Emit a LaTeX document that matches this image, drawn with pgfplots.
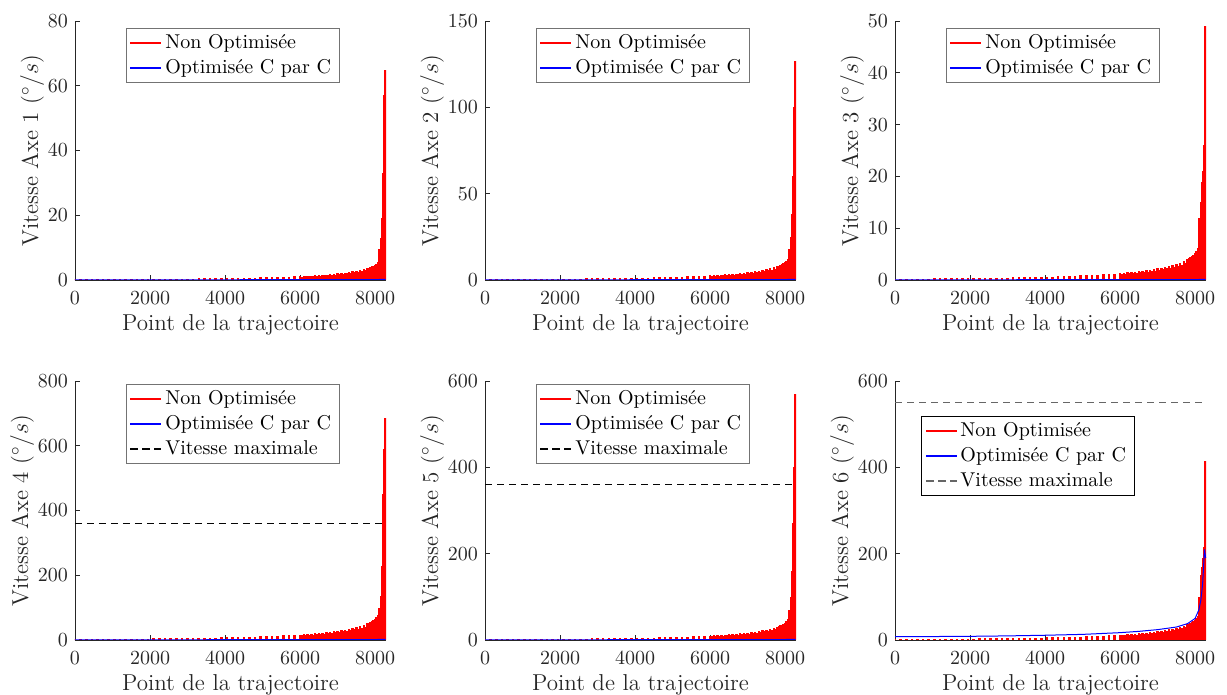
\documentclass[border=0pt]{standalone}
\usepackage{fontspec}
\usepackage{pgfplots}
\usepackage{pgfplotstable}
\pgfplotsset{compat=1.18}
\definecolor{axgray}{gray}{0.15}
\definecolor{limblack}{rgb}{0.02,0.02,0.02}
\definecolor{limgray}{rgb}{0.4,0.4,0.4}
\definecolor{nored}{rgb}{1,0,0}
\definecolor{optblue}{rgb}{0,0,1}

% Peaks of the oscillating "Non Optimisee" speed of each axis (a1..a6)
\pgfplotstableread{
x a1 a2 a3 a4 a5 a6
0 0.20 0.44 0.22 2.8 1.7 2.0
150 0.21 0.46 0.23 2.9 1.8 2.1
300 0.22 0.48 0.24 3.1 1.9 2.2
450 0.22 0.48 0.24 3.1 1.9 2.2
600 0.23 0.51 0.25 3.2 2.0 2.3
750 0.24 0.53 0.26 3.4 2.0 2.4
900 0.25 0.55 0.28 3.5 2.1 2.5
1050 0.26 0.57 0.29 3.6 2.2 2.6
1200 0.27 0.59 0.30 3.8 2.3 2.7
1350 0.28 0.62 0.31 3.9 2.4 2.8
1500 0.29 0.64 0.32 4.1 2.5 2.9
1650 0.30 0.66 0.33 4.2 2.6 3.0
1800 0.32 0.70 0.35 4.5 2.7 3.2
1950 0.33 0.73 0.36 4.6 2.8 3.3
2100 0.34 0.75 0.37 4.8 2.9 3.4
2250 0.35 0.77 0.39 4.9 3.0 3.5
2400 0.37 0.81 0.41 5.2 3.1 3.7
2550 0.38 0.84 0.42 5.3 3.2 3.8
2700 0.40 0.88 0.44 5.6 3.4 4.0
2850 0.41 0.90 0.45 5.7 3.5 4.1
3000 0.43 0.95 0.47 6.0 3.7 4.3
3150 0.45 0.99 0.50 6.3 3.8 4.5
3300 0.47 1.03 0.52 6.6 4.0 4.7
3450 0.49 1.08 0.54 6.9 4.2 4.9
3600 0.51 1.12 0.56 7.1 4.3 5.1
3750 0.53 1.17 0.58 7.4 4.5 5.3
3900 0.56 1.23 0.62 7.8 4.8 5.6
4050 0.58 1.28 0.64 8.1 4.9 5.8
4200 0.61 1.34 0.67 8.5 5.2 6.1
4350 0.64 1.41 0.70 9.0 5.4 6.4
4500 0.67 1.47 0.74 9.4 5.7 6.7
4650 0.71 1.56 0.78 9.9 6.0 7.1
4800 0.75 1.65 0.83 10.5 6.4 7.5
4950 0.79 1.74 0.87 11.1 6.7 7.9
5100 0.83 1.83 0.91 11.6 7.1 8.3
5250 0.88 1.94 0.97 12.3 7.5 8.8
5400 0.93 2.05 1.02 13.0 7.9 9.3
5550 0.99 2.18 1.09 13.9 8.4 9.9
5700 1.05 2.31 1.16 14.7 8.9 10.5
5850 1.12 2.46 1.23 15.7 9.5 11.2
6000 1.20 2.64 1.32 16.8 10.2 12.0
6050 1.05 2.30 1.15 14.6 8.9 10.5
6100 1.26 2.77 1.39 17.6 10.7 12.6
6150 1.10 2.41 1.21 15.4 9.3 11.0
6200 1.32 2.90 1.45 18.5 11.2 13.2
6250 1.15 2.52 1.26 16.1 9.8 11.5
6300 1.38 3.04 1.52 19.3 11.7 13.8
6350 1.20 2.64 1.32 16.8 10.2 12.0
6400 1.45 3.19 1.60 20.3 12.3 14.5
6450 1.26 2.77 1.39 17.6 10.7 12.6
6500 1.52 3.34 1.67 21.3 12.9 15.2
6550 1.33 2.92 1.46 18.6 11.3 13.3
6600 1.60 3.52 1.76 22.4 13.6 16.0
6650 1.39 3.07 1.53 19.5 11.8 13.9
6700 1.69 3.72 1.86 23.7 14.4 16.9
6750 1.48 3.25 1.63 20.7 12.6 14.8
6800 1.79 3.94 1.97 25.1 15.2 17.9
6850 1.56 3.44 1.72 21.9 13.3 15.6
6900 1.90 4.18 2.09 26.6 16.2 19.0
6950 1.67 3.66 1.83 23.3 14.2 16.7
7000 2.02 4.44 2.22 28.3 17.2 20.2
7050 1.77 3.89 1.94 24.8 15.0 17.7
7100 2.15 4.73 2.37 30.1 18.3 21.5
7150 1.89 4.15 2.08 26.4 16.0 18.9
7200 2.29 5.04 2.52 32.1 19.5 22.9
7250 2.01 4.43 2.22 28.2 17.1 20.1
7300 2.45 5.39 2.70 34.3 20.8 24.5
7350 2.16 4.75 2.37 30.2 18.4 21.6
7400 2.63 5.79 2.89 36.8 22.4 26.3
7450 2.32 5.10 2.55 32.5 19.7 23.2
7500 2.83 6.23 3.11 39.6 24.1 28.3
7550 2.50 5.50 2.75 35.0 21.2 25.0
7600 3.06 6.73 3.37 42.8 26.0 30.6
7650 2.71 5.97 2.98 38.0 23.0 27.1
7700 3.33 7.33 3.66 46.6 28.3 33.3
7750 2.96 6.51 3.25 41.4 25.1 29.6
7800 3.64 8.01 4.00 51.0 30.9 36.4
7820 3.16 6.96 3.48 44.3 26.9 31.6
7840 3.80 8.36 4.18 53.2 32.3 38.0
7860 3.31 7.27 3.64 46.3 28.1 33.1
7880 3.98 8.76 4.38 55.7 33.8 39.8
7900 3.47 7.63 3.81 48.6 29.5 34.7
7920 4.18 9.20 4.60 58.5 35.5 41.8
7940 3.65 8.02 4.01 51.1 31.0 36.5
7960 4.41 9.70 4.85 61.7 37.5 44.1
7980 3.86 8.49 4.24 54.0 32.8 38.6
8000 4.68 10.3 5.15 65.5 39.8 46.8
8020 4.12 9.07 4.53 57.7 35.0 41.2
8040 5.05 11.1 5.56 70.7 42.9 50.5
8060 4.51 9.91 4.96 63.1 38.3 45.1
8080 5.60 12.3 6.16 78.4 47.6 56.0
8100 8.5 16 11 90 60 80
8120 9.5 18 12 100 70 100
8140 9.0 17 11.5 98 68 95
8160 13 25 15 135 100 150
8180 16 30 17 175 125 160
8190 15 28 16 160 115 140
8200 19 38 19 230 160 170
8210 21 45 19.5 260 185 175
8220 26 50 20 330 220 180
8230 33 60 21 450 270 190
8240 50 80 22 574 330 200
8250 57 100 26 590 400 215
8260 58 110 33 620 460 230
8270 62 120 40 650 520 300
8280 65 127 49 685 570 415
}\redtab

\pgfplotsset{
  myax/.style={
    scale only axis, width=155.5pt, height=129.5pt,
    axis lines*=left,
    axis line style={axgray, line width=0.45pt},
    every tick/.style={axgray, line width=0.45pt},
    major tick length=2.5pt,
    tick align=inside,
    xmin=0, xmax=8290, ymin=0,
    xtick={0,2000,4000,6000,8000},
    scaled x ticks=false, scaled y ticks=false,
    /pgf/number format/1000 sep={},
    ticklabel style={font=\fontsize{10}{12}\selectfont, text=axgray},
    xticklabel style={yshift=-2.5pt},
    label style={font=\fontsize{11.5}{13}\selectfont, text=axgray},
    xlabel={Point de la trajectoire},
    xlabel style={yshift=2pt},
    ylabel style={yshift=-5pt},
    legend cell align=left,
    legend style={font=\fontsize{10}{12}\selectfont, draw=black!55,
      line width=0.45pt, inner xsep=2pt, inner ysep=1pt,
      row sep=0pt, anchor=north west},
  },
  redc/.style={ycomb, nored, line width=1.3pt, no markers, forget plot},
  bluec/.style={optblue, line width=0.5pt, no markers, forget plot},
  maxc/.style={limblack, line width=0.5pt, dash pattern=on 3.5pt off 2.5pt, forget plot},
  maxg/.style={limgray, line width=0.5pt, dash pattern=on 3.5pt off 2.5pt, forget plot},
  legred/.style={legend image code/.code={\fill[nored] (0pt,-0.27pt) rectangle (15pt,0.27pt);}},
  legblue/.style={legend image code/.code={\fill[optblue] (0pt,-0.25pt) rectangle (15pt,0.25pt);}},
  legmax/.style={legend image code/.code={\fill[limblack] (0pt,-0.25pt) rectangle (3.5pt,0.25pt) (6pt,-0.25pt) rectangle (9.5pt,0.25pt) (12pt,-0.25pt) rectangle (15pt,0.25pt);}},
  legmaxg/.style={legend image code/.code={\fill[limgray] (0pt,-0.25pt) rectangle (3.5pt,0.25pt) (6pt,-0.25pt) rectangle (9.5pt,0.25pt) (12pt,-0.25pt) rectangle (15pt,0.25pt);}},
}

\begin{document}
\begin{tikzpicture}
\path[use as bounding box] (0,0) rectangle (613.5pt,347.5pt);

% ---- Axe 1
\begin{axis}[myax, at={(37.5pt,207.5pt)}, anchor=south west,
  ymax=80, ytick={0,20,40,60,80},
  ylabel={Vitesse Axe 1 ($^\circ/s$)},
  legend style={at={(0.164,0.973)}}]
\addplot[redc] table[x=x, y=a1] {\redtab};
\addplot[bluec] coordinates {(0,0.05) (2000,0.06) (4000,0.07) (6000,0.09) (8000,0.12) (8280,0.2)};
\addlegendimage{legred}\addlegendentry{Non Optimisée}
\addlegendimage{legblue}\addlegendentry{Optimisée C par C}
\end{axis}

% ---- Axe 2
\begin{axis}[myax, at={(242.5pt,207.5pt)}, anchor=south west,
  ymax=150, ytick={0,50,100,150},
  ylabel={Vitesse Axe 2 ($^\circ/s$)},
  legend style={at={(0.164,0.973)}}]
\addplot[redc] table[x=x, y=a2] {\redtab};
\addplot[bluec] coordinates {(0,0.1) (2000,0.12) (4000,0.14) (6000,0.18) (8000,0.25) (8280,0.4)};
\addlegendimage{legred}\addlegendentry{Non Optimisée}
\addlegendimage{legblue}\addlegendentry{Optimisée C par C}
\end{axis}

% ---- Axe 3
\begin{axis}[myax, at={(447.5pt,207.5pt)}, anchor=south west,
  ymax=50, ytick={0,10,20,30,40,50},
  ylabel={Vitesse Axe 3 ($^\circ/s$)},
  legend style={at={(0.164,0.973)}}]
\addplot[redc] table[x=x, y=a3] {\redtab};
\addplot[bluec] coordinates {(0,0.03) (2000,0.04) (4000,0.05) (6000,0.06) (8000,0.08) (8280,0.12)};
\addlegendimage{legred}\addlegendentry{Non Optimisée}
\addlegendimage{legblue}\addlegendentry{Optimisée C par C}
\end{axis}

% ---- Axe 4
\begin{axis}[myax, at={(37.5pt,27.5pt)}, anchor=south west,
  ymax=800, ytick={0,200,400,600,800},
  ylabel={Vitesse Axe 4 ($^\circ/s$)},
  legend style={at={(0.164,0.988)}}]
\addplot[redc] table[x=x, y=a4] {\redtab};
\addplot[bluec] coordinates {(0,0.5) (2000,0.6) (4000,0.8) (6000,1.0) (8000,1.4) (8280,2)};
\addplot[maxc] coordinates {(0,360) (8290,360)};
\addlegendimage{legred}\addlegendentry{Non Optimisée}
\addlegendimage{legblue}\addlegendentry{Optimisée C par C}
\addlegendimage{legmax}\addlegendentry{Vitesse maximale}
\end{axis}

% ---- Axe 5
\begin{axis}[myax, at={(242.5pt,27.5pt)}, anchor=south west,
  ymax=600, ytick={0,200,400,600},
  ylabel={Vitesse Axe 5 ($^\circ/s$)},
  legend style={at={(0.164,0.988)}}]
\addplot[redc] table[x=x, y=a5] {\redtab};
\addplot[bluec] coordinates {(0,0.4) (2000,0.5) (4000,0.6) (6000,0.8) (8000,1.1) (8280,1.5)};
\addplot[maxc] coordinates {(0,360) (8290,360)};
\addlegendimage{legred}\addlegendentry{Non Optimisée}
\addlegendimage{legblue}\addlegendentry{Optimisée C par C}
\addlegendimage{legmax}\addlegendentry{Vitesse maximale}
\end{axis}

% ---- Axe 6
\begin{axis}[myax, at={(447.5pt,27.5pt)}, anchor=south west,
  ymax=600, ytick={0,200,400,600},
  ylabel={Vitesse Axe 6 ($^\circ/s$)},
  legend style={at={(0.084,0.865)}, draw=black}]
\addplot[redc] table[x=x, y=a6] {\redtab};
\addplot[bluec] coordinates {(0,7.7) (1000,8) (2000,8.5) (3000,9.5) (4000,11) (5000,13) (6000,17) (6500,20) (7000,24) (7500,30) (7800,38) (8000,50) (8100,70) (8150,91) (8200,130) (8250,210) (8280,190)};
\addplot[maxg] coordinates {(0,550) (8290,550)};
\addlegendimage{legred}\addlegendentry{Non Optimisée}
\addlegendimage{legblue}\addlegendentry{Optimisée C par C}
\addlegendimage{legmaxg}\addlegendentry{Vitesse maximale}
\end{axis}
\end{tikzpicture}
\end{document}
